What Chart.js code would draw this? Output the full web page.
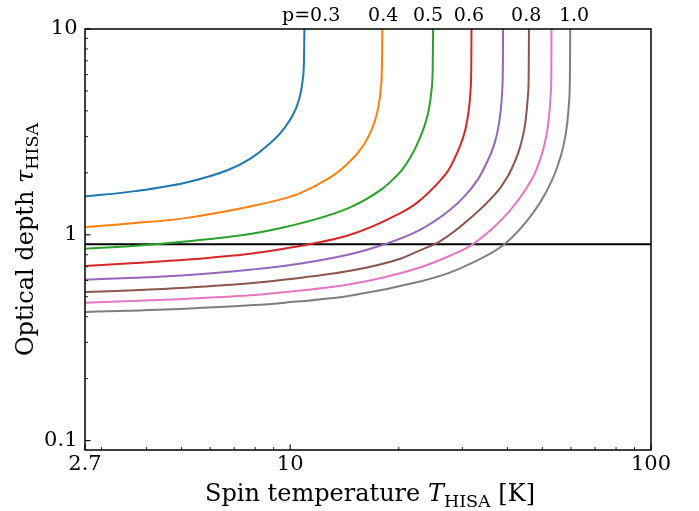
<!DOCTYPE html>
<html>
<head>
<meta charset="utf-8">
<script src="https://cdn.jsdelivr.net/npm/chart.js@4/dist/chart.umd.min.js"></script>
<style>
  html, body { margin: 0; padding: 0; background: #fff; }
  #wrap { width: 699px; height: 511px; }
</style>
</head>
<body>
<div id="wrap"><canvas id="c" width="699" height="511"></canvas></div>
<script>
// ---- data (spin temperature [K], optical depth) ----
const curveP03 = [[2.7,1.535],[3.72,1.63],[5.12,1.79],[6.75,2.07],[7.74,2.34],[8.62,2.70],[9.6,3.27],[10.45,4.24],[10.72,5.0],[10.84,5.72],[10.92,7.0],[10.95,10]];
const curveP04 = [[2.7,1.09],[3.72,1.14],[5.12,1.205],[7.74,1.372],[9.69,1.507],[10.66,1.594],[12.72,1.87],[13.81,2.07],[15.46,2.52],[16.48,3.0],[17.12,3.52],[17.58,4.24],[17.82,5.11],[17.97,7.0],[18.0,10]];
const curveP05 = [[2.7,0.855],[3.72,0.884],[5.12,0.928],[7.74,1.01],[9.69,1.09],[14.66,1.36],[18.1,1.686],[19.34,1.87],[20.42,2.07],[21.61,2.4],[22.62,2.82],[23.59,3.4],[24.24,4.09],[24.63,5.0],[24.83,6.4],[24.9,10]];
const curveP06 = [[2.7,0.705],[3.72,0.729],[5.12,0.756],[7.74,0.809],[9.69,0.858],[14.66,1.0],[20.2,1.274],[22.4,1.425],[26.3,1.87],[27.5,2.07],[29.6,2.72],[30.52,3.2],[31.2,3.94],[31.6,5.0],[31.77,7.0],[31.8,10]];
const curveP07 = [[2.7,0.605],[3.72,0.618],[5.12,0.636],[7.74,0.677],[9.69,0.707],[14.66,0.805],[18.1,0.894],[22.9,1.057],[27.7,1.32],[30.54,1.55],[33.2,1.87],[34.3,2.07],[36.94,2.82],[37.93,3.5],[38.52,4.41],[38.69,5.0],[38.87,7.0],[38.9,10]];
const curveP08 = [[2.7,0.527],[3.72,0.538],[5.12,0.553],[7.74,0.581],[9.69,0.606],[14.66,0.668],[20.2,0.765],[22.9,0.84],[26.0,0.93],[31.5,1.2],[37.86,1.654],[39.71,1.87],[40.99,2.07],[42.86,2.5],[43.96,2.92],[44.84,3.5],[45.6,4.75],[45.82,6.0],[45.9,10]];
const curveP09 = [[2.7,0.468],[5.12,0.488],[7.74,0.508],[9.69,0.527],[14.66,0.575],[22.9,0.694],[27.7,0.791],[32.2,0.904],[40.64,1.31],[46.81,1.87],[48.09,2.07],[49.96,2.5],[51.06,2.92],[51.94,3.5],[52.7,4.75],[52.92,6.0],[53.0,10]];
const curveP10 = [[2.7,0.421],[5.12,0.437],[7.74,0.454],[9.69,0.468],[14.66,0.506],[22.9,0.593],[27.7,0.655],[31.5,0.722],[39.4,0.904],[47.08,1.274],[51.1,1.6],[53.33,1.87],[54.64,2.07],[57.23,2.72],[58.61,3.5],[59.27,4.41],[59.61,6.0],[59.7,10]];
const thresholdLine = [[2.7,0.9],[100,0.9]];

const curveColors = ['#1f77b4','#ff7f0e','#2ca02c','#d62728','#9467bd','#8c564b','#e377c2','#7f7f7f'];
const curveNames = ['p=0.3','p=0.4','p=0.5','p=0.6','p=0.7','p=0.8','p=0.9','p=1.0'];

const pLabels = ['p=0.3','0.4','0.5','0.6','0.8','1.0'];
const pLabelX = [11.43, 18.1, 24.1, 31.3, 45.1, 61.2];

const xMajorTicks = [2.7, 10, 100];
const xMajorLabels = ['2.7', '10', '100'];
const xMinorTicks = [3,4,5,6,7,8,9,20,30,40,50,60,70,80,90];
const yMajorTicks = [0.1, 1, 10];
const yMajorLabels = ['0.1', '1', '10'];
const yMinorTicks = [0.2,0.3,0.4,0.5,0.6,0.7,0.8,0.9,2,3,4,5,6,7,8,9];

const X_MIN = 2.7, X_MAX = 100, Y_MIN = 0.09, Y_MAX = 10;

// ---- build datasets ----
const toXY = arr => arr.map(p => ({x: p[0], y: p[1]}));
const allCurves = [curveP03, curveP04, curveP05, curveP06, curveP07, curveP08, curveP09, curveP10];
const datasets = allCurves.map((c, i) => ({
  label: curveNames[i],
  data: toXY(c),
  borderColor: curveColors[i],
  backgroundColor: curveColors[i],
  borderWidth: 2,
  pointRadius: 0,
  fill: false,
  cubicInterpolationMode: 'monotone'
}));
datasets.push({
  label: 'threshold',
  data: toXY(thresholdLine),
  borderColor: '#000',
  borderWidth: 2,
  pointRadius: 0,
  fill: false
});

const SERIF = '"DejaVu Serif", serif';

function drawRich(ctx, parts, x, y, align) {
  let total = 0;
  const widths = parts.map(p => { ctx.font = p.font; const w = ctx.measureText(p.text).width; total += w; return w; });
  let cx = align === 'center' ? x - total / 2 : x;
  parts.forEach((p, i) => {
    ctx.font = p.font;
    ctx.fillText(p.text, cx, y + (p.dy || 0));
    cx += widths[i];
  });
}

const decor = {
  id: 'decor',
  afterDatasetsDraw(chart) {
    const {ctx, chartArea: a} = chart;
    const xs = chart.scales.x, ys = chart.scales.y;
    ctx.save();
    ctx.strokeStyle = '#000';
    const seg = (x1, y1, x2, y2) => { ctx.beginPath(); ctx.moveTo(x1, y1); ctx.lineTo(x2, y2); ctx.stroke(); };
    // inward ticks
    ctx.lineWidth = 1.1;
    xMajorTicks.forEach(v => { const p = xs.getPixelForValue(v); seg(p, a.bottom, p, a.bottom - 5.5); });
    yMajorTicks.forEach(v => { const p = ys.getPixelForValue(v); seg(a.left, p, a.left + 5.5, p); });
    ctx.lineWidth = 0.9;
    xMinorTicks.forEach(v => { const p = xs.getPixelForValue(v); seg(p, a.bottom, p, a.bottom - 3); });
    yMinorTicks.forEach(v => { const p = ys.getPixelForValue(v); seg(a.left, p, a.left + 3, p); });
    // spines
    ctx.lineWidth = 1.5;
    ctx.strokeRect(a.left, a.top, a.right - a.left, a.bottom - a.top);
    // p labels at top
    ctx.fillStyle = '#000';
    ctx.textAlign = 'center';
    ctx.textBaseline = 'alphabetic';
    ctx.font = '19px ' + SERIF;
    pLabels.forEach((t, i) => ctx.fillText(t, xs.getPixelForValue(pLabelX[i]), 21));
    // axis titles
    ctx.textAlign = 'left';
    const big = '24px ' + SERIF, bigIt = 'italic 24px ' + SERIF, sub = '17.5px ' + SERIF;
    drawRich(ctx, [
      {text: 'Spin temperature ', font: big},
      {text: 'T', font: bigIt},
      {text: 'HISA', font: sub, dy: 6},
      {text: ' [K]', font: big}
    ], (a.left + a.right) / 2 + 2, 501, 'center');
    ctx.translate(33, (a.top + a.bottom) / 2);
    ctx.rotate(-Math.PI / 2);
    drawRich(ctx, [
      {text: 'Optical depth ', font: big},
      {text: 'τ', font: bigIt},
      {text: 'HISA', font: sub, dy: 5}
    ], 0, 0, 'center');
    ctx.restore();
  }
};

new Chart(document.getElementById('c'), {
  type: 'line',
  data: { datasets },
  options: {
    responsive: false,
    animation: false,
    devicePixelRatio: 1,
    layout: { padding: { left: 10, right: 48, top: 29, bottom: 10 } },
    plugins: { legend: { display: false }, tooltip: { enabled: false } },
    scales: {
      x: {
        type: 'logarithmic',
        min: X_MIN, max: X_MAX,
        grid: { display: false, drawTicks: false },
        border: { display: false },
        afterBuildTicks: s => { s.ticks = xMajorTicks.map(v => ({value: v})); },
        afterFit: s => { s.height = 51; },
        ticks: {
          autoSkip: false, maxRotation: 0, minRotation: 0, padding: 2,
          color: '#000', font: { family: 'DejaVu Serif', size: 21 },
          callback: (v) => { const i = xMajorTicks.indexOf(v); return i >= 0 ? xMajorLabels[i] : ''; }
        }
      },
      y: {
        type: 'logarithmic',
        min: Y_MIN, max: Y_MAX,
        grid: { display: false, drawTicks: false },
        border: { display: false },
        afterBuildTicks: s => { s.ticks = yMajorTicks.map(v => ({value: v})); },
        afterFit: s => { s.width = 75; },
        ticks: {
          autoSkip: false, padding: 7.5,
          color: '#000', font: { family: 'DejaVu Serif', size: 21 },
          callback: (v) => { const i = yMajorTicks.indexOf(v); return i >= 0 ? yMajorLabels[i] : ''; }
        }
      }
    }
  },
  plugins: [decor]
});
</script>
</body>
</html>
